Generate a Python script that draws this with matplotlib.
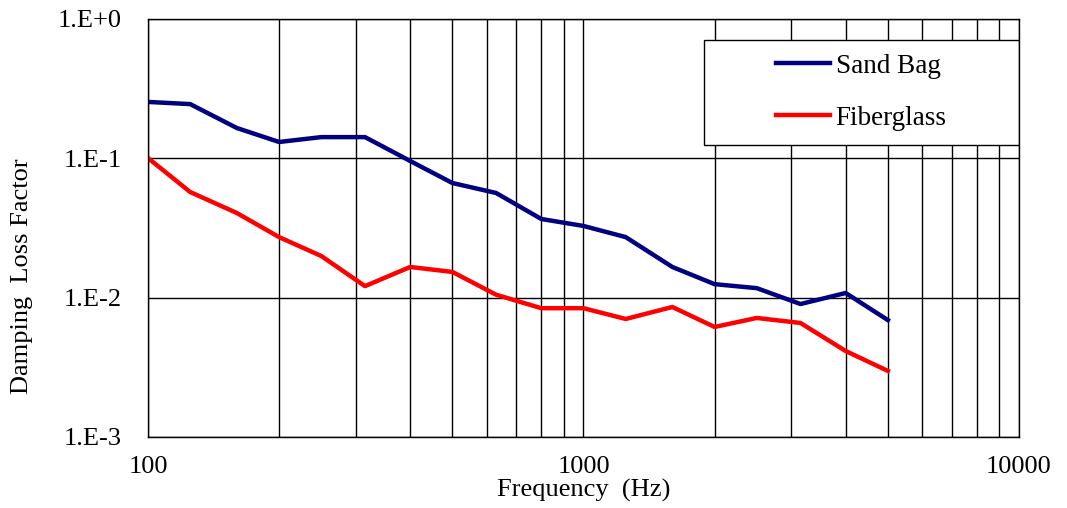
import matplotlib
matplotlib.use('Agg')
import matplotlib.pyplot as plt
from matplotlib.patches import Rectangle

freq = [100, 125, 160, 200, 250, 315, 400, 500, 630, 800, 1000, 1250, 1600, 2000, 2500, 3150, 4000, 5000]
sand_bag = [0.254, 0.245, 0.165, 0.131, 0.142, 0.142, 0.0957, 0.0665, 0.0564, 0.0367, 0.0327, 0.0272,
            0.0166, 0.0125, 0.0117, 0.0090, 0.0108, 0.0069]
fiberglass = [0.1005, 0.0573, 0.0405, 0.0272, 0.0199, 0.0121, 0.0166, 0.0153, 0.0105, 0.0084, 0.0084, 0.00703,
              0.00857, 0.00616, 0.00715, 0.00658, 0.00414, 0.00298]

y_ticks = [1e-3, 1e-2, 1e-1, 1]
y_labels = ['1.E-3', '1.E-2', '1.E-1', '1.E+0']
x_ticks = [100, 1000, 10000]
x_labels = ['100', '1000', '10000']

plt.rcParams['font.family'] = ['Liberation Serif', 'DejaVu Serif']
fs = 19

fig = plt.figure(figsize=(10.67, 5.08), dpi=100)
ax = fig.add_axes([0.1387, 0.1398, 0.8163, 0.8228])

ax.plot(freq, sand_bag, color='#000080', lw=3.2, label='Sand Bag', zorder=3)
ax.plot(freq, fiberglass, color='#ff0000', lw=3.2, label='Fiberglass', zorder=3)

ax.set_xscale('log')
ax.set_yscale('log')
ax.set_xlim(100, 10000)
ax.set_ylim(1e-3, 1)

ax.set_yticks(y_ticks)
ax.set_yticklabels(y_labels)
ax.set_xticks(x_ticks)
ax.set_xticklabels(x_labels)
ax.yaxis.set_minor_locator(matplotlib.ticker.NullLocator())
ax.tick_params(axis='both', which='both', length=0, labelsize=fs)
ax.tick_params(axis='y', pad=19)
ax.tick_params(axis='x', pad=14)

ax.grid(True, which='major', color='black', lw=1)
ax.grid(True, which='minor', axis='x', color='black', lw=1)

for sp in ax.spines.values():
    sp.set_color('black')
    sp.set_linewidth(1)
    sp.set_zorder(5)

ax.set_xlabel('Frequency  (Hz)', fontsize=fs, labelpad=0)
ax.set_ylabel('Damping  Loss Factor', fontsize=fs)
# the label sits a bit lower than the axes centre in the original
ax.yaxis.set_label_coords(-0.132, 0.385)

# legend box with its own frame
box = Rectangle((0.638, 0.699), 0.362, 0.251, transform=ax.transAxes,
                facecolor='white', edgecolor='black', lw=1, zorder=4)
ax.add_patch(box)
leg = ax.legend(loc='center', bbox_to_anchor=(0.638 + 0.181, 0.699 + 0.1255), frameon=False,
                fontsize=19.5, handlelength=2.0, handletextpad=0.2, labelspacing=1.0)
leg.set_zorder(6)

fig.savefig('out.png', dpi=100)
